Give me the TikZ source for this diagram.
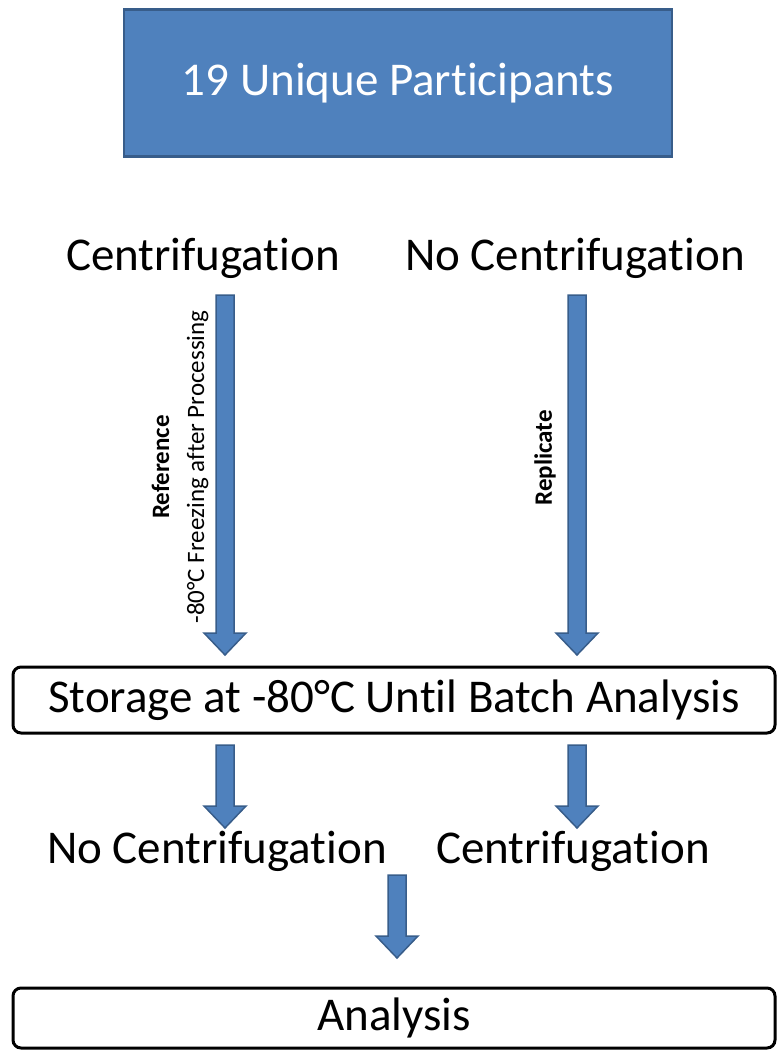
\documentclass[tikz,border=0pt]{standalone}
\usepackage{fontspec}
\setmainfont{Carlito}[Ligatures={CommonOff,ContextualOff}]
\usetikzlibrary{calc, positioning}
\definecolor{headblue}{RGB}{79,129,189}
\definecolor{edgeblue}{RGB}{56,93,138}

\begin{document}
\begin{tikzpicture}[
    x=1pt, y=-1pt,
    header/.style={rectangle, draw=edgeblue, line width=2.5pt,
                   fill=headblue, text=white, minimum width=548pt,
                   minimum height=147pt, font=\fontsize{47}{56}\selectfont},
    group/.style={inner sep=0pt, font=\fontsize{47}{56}\selectfont},
    stage/.style={rectangle, rounded corners=8pt, draw=black,
                  line width=3pt, minimum width=762pt,
                  font=\fontsize{47}{56}\selectfont},
    side/.style={rotate=90, align=center, inner sep=0pt,
                 font=\fontsize{25}{35}\selectfont},
    fat/.style={draw=edgeblue, fill=headblue, line width=1.5pt,
                to path={($(\tikztostart)+(-9,0)$) -- ($(\tikztotarget)+(-9,-22)$)
                         -- ++(-12,0) -- (\tikztotarget) -- ++(21,-22)
                         -- ++(-12,0) -- ($(\tikztostart)+(9,0)$) -- cycle}}
]
\useasboundingbox (0,0) rectangle (776,1051);

%% -- Participants --
\node[header] (P) at (398,83) {19 Unique Participants};

%% -- Processing arms --
\node[group] (C1) at (203,258) {Centrifugation};
\node[group] (N1) at (575,258) {No Centrifugation};

\coordinate (C1a) at (225,295);
\coordinate (C1b) at (225,655);
\coordinate (N1a) at (577,295);
\coordinate (N1b) at (577,655);

\draw[fat] (C1a) to (C1b);
\draw[fat] (N1a) to (N1b);

\node[side] (REF) at (180,467) {\textbf{Reference}\\-80°C Freezing after Processing};
\node[side] (REP) at (545,458) {\textbf{Replicate}};

%% -- Storage --
\node[stage, minimum height=66pt] (ST) at (394,700) {Storage at -80°C Until Batch Analysis};

\coordinate (S1a) at (225,745);
\coordinate (S1b) at (225,828);
\coordinate (S2a) at (577,745);
\coordinate (S2b) at (577,828);

\draw[fat] (S1a) to (S1b);
\draw[fat] (S2a) to (S2b);

%% -- Thawed arms --
\node[group] (N2) at (217,851) {No Centrifugation};
\node[group] (C2) at (573,851) {Centrifugation};

\coordinate (Aa) at (397,875);
\coordinate (Ab) at (397,958);
\draw[fat] (Aa) to (Ab);

%% -- Analysis --
\node[stage, minimum height=60pt] (AN) at (394,1018) {Analysis};

\end{tikzpicture}
\end{document}
